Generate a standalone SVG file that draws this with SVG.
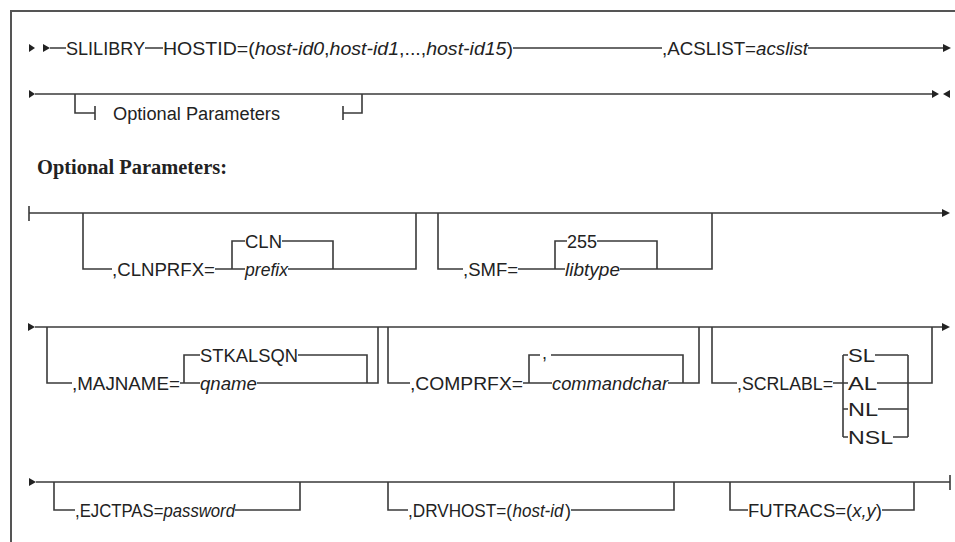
<svg xmlns="http://www.w3.org/2000/svg" width="955" height="542" viewBox="0 0 955 542">
<style>
.ln{fill:none;stroke:#3a3a3a;stroke-width:1.6}
.fr{fill:none;stroke:#555;stroke-width:2}
.ah{fill:#222}
text{font-family:"Liberation Sans",Arial,sans-serif;font-size:18px;fill:#222}
.it{font-style:italic}
.hd{font-family:"Liberation Serif","Times New Roman",serif;font-weight:bold;font-size:20px}
</style>
<rect width="955" height="542" fill="#fff"/>
<path class="fr" d="M11,542 V11 H955"/>
<g id="connectors">
<polygon class="ah" points="29,44 35,48 29,52"/>
<polygon class="ah" points="43,44 50,48 43,52"/>
<path class="ln" d="M50,48 H66 M145,48 H163 M513,48 H662 M808,48 H944"/>
<polygon class="ah" points="943,44 951,48 943,52"/>
<polygon class="ah" points="29,90 35,94 29,98"/>
<path class="ln" d="M35,94 H933"/>
<polygon class="ah" points="932,90 939,94 932,98"/>
<polygon class="ah" points="950,90 943,94 950,98"/>
<path class="ln" d="M75,94 V113 H95 M95,106 V120 M343,106 V120 M343,113 H362 V94"/>
<path class="ln" d="M29,206 V221 M29,213 H943"/>
<polygon class="ah" points="942,209 950,213 942,217"/>
<path class="ln" d="M83,213 V269 H112 M215,269 H245 M232,269 V241 H245 M282,241 H333 V269 M288,269 H416 V213"/>
<path class="ln" d="M438,213 V269 H463 M518,269 H565 M555,269 V241 H567 M597,241 H657 V269 M620,269 H712 V213"/>
<polygon class="ah" points="28,323 35,327 28,331"/>
<path class="ln" d="M35,327 H943"/>
<polygon class="ah" points="942,323 950,327 942,331"/>
<path class="ln" d="M47,327 V383 H72 M180,383 H200 M184,383 V355 H200 M298,355 H367 V383 M257,383 H378 V327"/>
<path class="ln" d="M388,327 V383 H410 M523,383 H552 M529,383 V355 H540 M551,355 H683 V383 M668,383 H699 V327"/>
<path class="ln" d="M712,327 V383 H737 M833,383 H848 M843,355 V437 M843,355 H848 M875,355 H908 M877,383 H932 V327 M843,409 H848 M878,409 H908 M843,437 H848 M893,437 H908 M908,355 V437"/>
<polygon class="ah" points="29,478 36,482 29,486"/>
<path class="ln" d="M36,482 H950 M950,475 V490"/>
<path class="ln" d="M54,482 V510 H75 M235,510 H300 V482"/>
<path class="ln" d="M388,482 V510 H408 M571,510 H674 V482"/>
<path class="ln" d="M730,482 V510 H748 M882,510 H914 V482"/>
</g>
<g id="heading"><text class="hd" x="37" y="174" textLength="190" lengthAdjust="spacingAndGlyphs">Optional Parameters:</text></g>
<g id="slilibry"><text x="66" y="54.5" textLength="79" lengthAdjust="spacingAndGlyphs">SLILIBRY</text></g>
<g id="hostid"><text x="163" y="54.5" textLength="350" lengthAdjust="spacingAndGlyphs">HOSTID=(<tspan class="it">host-id0</tspan>,<tspan class="it">host-id1</tspan>,...,<tspan class="it">host-id15</tspan>)</text></g>
<g id="acslist"><text x="662" y="54.5" textLength="146" lengthAdjust="spacingAndGlyphs">,ACSLIST=<tspan class="it">acslist</tspan></text></g>
<g id="optref"><text x="113" y="120" textLength="167" lengthAdjust="spacingAndGlyphs">Optional Parameters</text></g>
<g id="clnprfx"><text x="112" y="275.5" textLength="103" lengthAdjust="spacingAndGlyphs">,CLNPRFX=</text><text x="245" y="247.5" textLength="37" lengthAdjust="spacingAndGlyphs">CLN</text><text class="it" x="245" y="275.5" textLength="43" lengthAdjust="spacingAndGlyphs">prefix</text></g>
<g id="smf"><text x="463" y="275.5" textLength="55" lengthAdjust="spacingAndGlyphs">,SMF=</text><text x="567" y="247.5" textLength="30" lengthAdjust="spacingAndGlyphs">255</text><text class="it" x="565" y="275.5" textLength="55" lengthAdjust="spacingAndGlyphs">libtype</text></g>
<g id="majname"><text x="72" y="389.5" textLength="108" lengthAdjust="spacingAndGlyphs">,MAJNAME=</text><text x="200" y="361.5" textLength="98" lengthAdjust="spacingAndGlyphs">STKALSQN</text><text class="it" x="200" y="389.5" textLength="57" lengthAdjust="spacingAndGlyphs">qname</text></g>
<g id="comprfx"><text x="410" y="389.5" textLength="113" lengthAdjust="spacingAndGlyphs">,COMPRFX=</text><text x="542" y="359">,</text><text class="it" x="552" y="389.5" textLength="116" lengthAdjust="spacingAndGlyphs">commandchar</text></g>
<g id="scrlabl"><text x="737" y="389.5" textLength="96" lengthAdjust="spacingAndGlyphs">,SCRLABL=</text><text x="848" y="361.5" textLength="27" lengthAdjust="spacingAndGlyphs">SL</text><text x="848" y="389.5" textLength="29" lengthAdjust="spacingAndGlyphs">AL</text><text x="848" y="415.5" textLength="30" lengthAdjust="spacingAndGlyphs">NL</text><text x="848" y="443.5" textLength="45" lengthAdjust="spacingAndGlyphs">NSL</text></g>
<g id="ejctpas"><text x="75" y="516.5" textLength="160" lengthAdjust="spacingAndGlyphs">,EJCTPAS=<tspan class="it">password</tspan></text></g>
<g id="drvhost"><text x="408" y="516.5" textLength="104" lengthAdjust="spacingAndGlyphs">,DRVHOST=(</text><text class="it" x="512.5" y="516.5" textLength="51" lengthAdjust="spacingAndGlyphs">host-id</text><text x="565" y="516.5">)</text></g>
<g id="futracs"><text x="748" y="516.5" textLength="134" lengthAdjust="spacingAndGlyphs">FUTRACS=(<tspan class="it">x,y</tspan>)</text></g>
</svg>
